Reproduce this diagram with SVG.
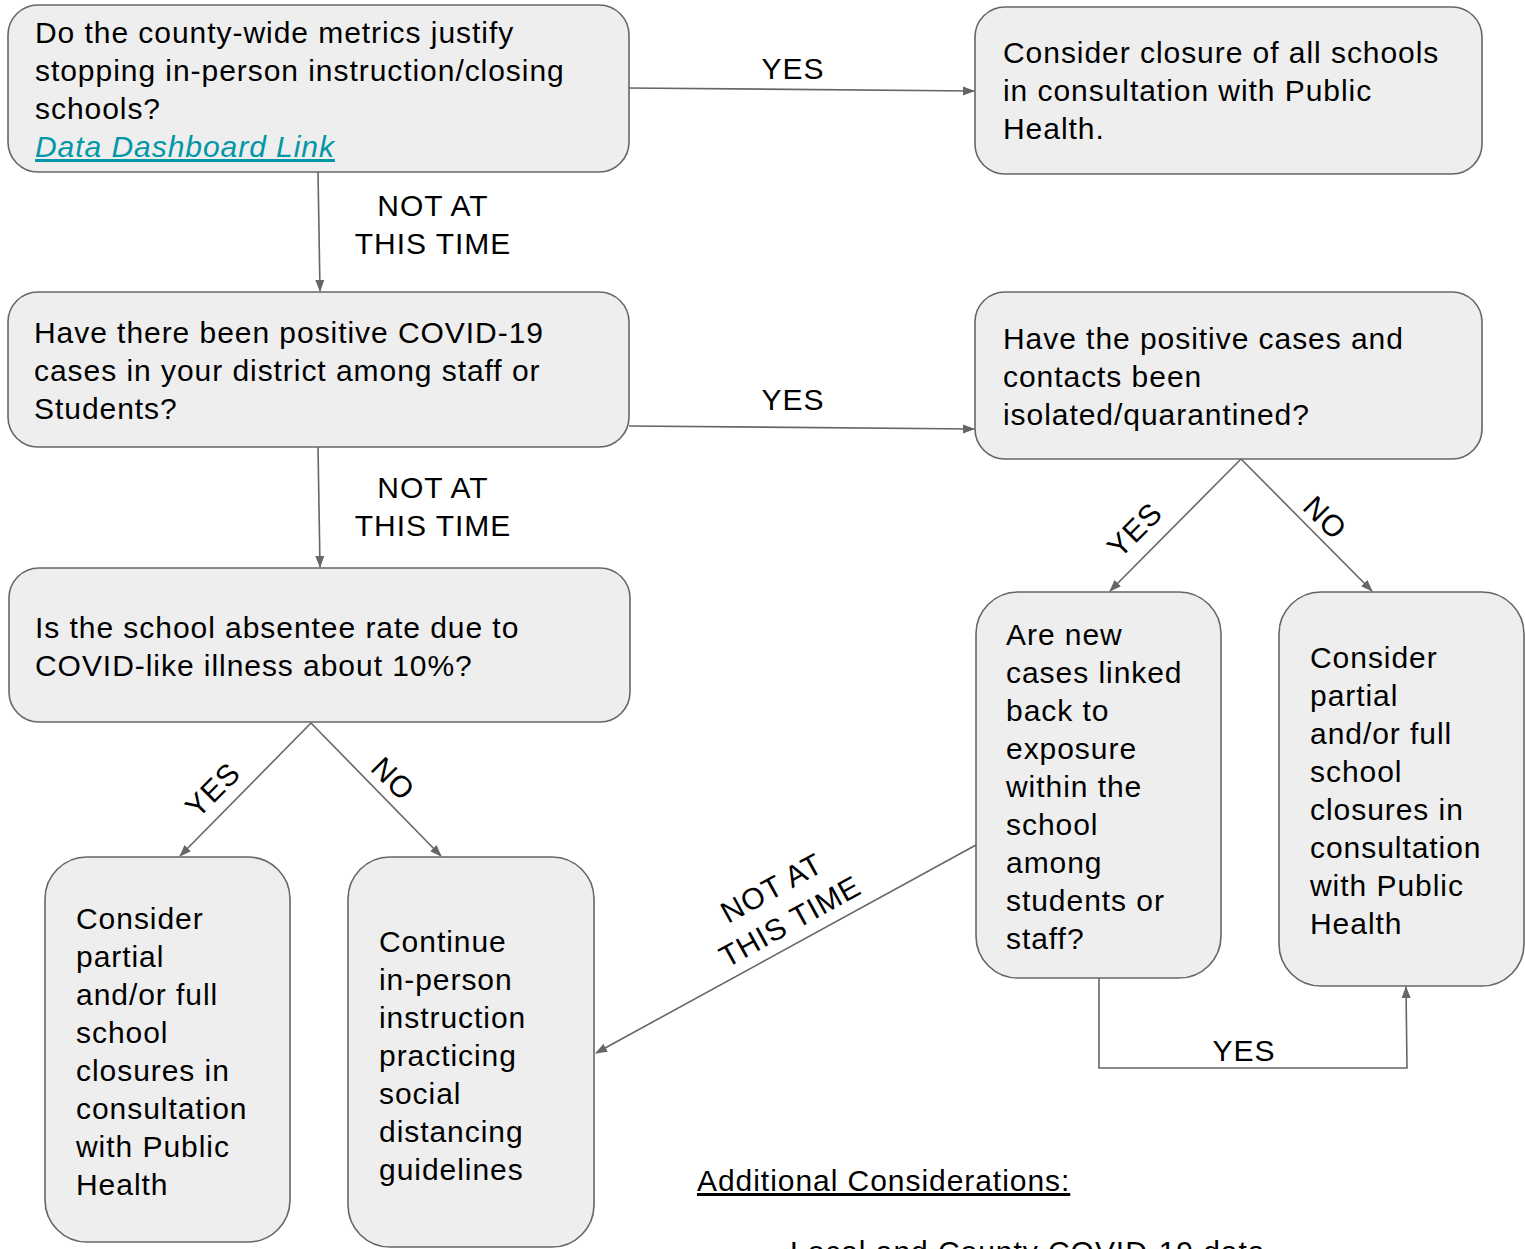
<svg xmlns="http://www.w3.org/2000/svg" width="1525" height="1249" viewBox="0 0 1525 1249">
<style>
.box{fill:#eeeeee;stroke:#666666;stroke-width:1.6}
text{font-family:"Liberation Sans",Arial,sans-serif;font-size:30px;letter-spacing:0.95px;fill:#000}
.lbl{text-anchor:middle}
.edge{fill:none;stroke:#666666;stroke-width:1.6;marker-end:url(#ah)}
.link{fill:#0097a7;font-style:italic;text-decoration:underline}
</style>
<defs>
<marker id="ah" markerWidth="12" markerHeight="10" refX="11" refY="5" orient="auto" markerUnits="userSpaceOnUse">
<path d="M0,0.5 L12,5 L0,9.5 Z" fill="#666666"/>
</marker>
</defs>
<rect width="1525" height="1249" fill="#ffffff"/>
<g id="connectors">
<path class="edge" d="M629,88 L974,91"/>
<path class="edge" d="M318,172 L320,291"/>
<path class="edge" d="M629,426 L974,429"/>
<path class="edge" d="M318,447 L320,567"/>
<path class="edge" d="M311,723 L180,856"/>
<path class="edge" d="M311,723 L441,856"/>
<path class="edge" d="M1241,459 L1110,591"/>
<path class="edge" d="M1241,459 L1372,591"/>
<path class="edge" d="M976,845 L596,1053"/>
<path class="edge" d="M1099,978 L1099,1068 L1407,1068 L1406,987"/>
<text class="lbl" x="793" y="79">YES</text>
<text class="lbl" x="433" y="216">NOT AT</text>
<text class="lbl" x="433" y="254">THIS TIME</text>
<text class="lbl" x="793" y="410">YES</text>
<text class="lbl" x="433" y="498">NOT AT</text>
<text class="lbl" x="433" y="536">THIS TIME</text>
<text class="lbl" transform="translate(1135,530) rotate(-45)" x="0" y="10">YES</text>
<text class="lbl" transform="translate(1325,518) rotate(45)" x="0" y="10">NO</text>
<text class="lbl" transform="translate(213,790) rotate(-45)" x="0" y="10">YES</text>
<text class="lbl" transform="translate(393,779) rotate(45)" x="0" y="10">NO</text>
<g transform="translate(781,905) rotate(-29)">
<text class="lbl" x="0" y="-9">NOT AT</text>
<text class="lbl" x="0" y="29">THIS TIME</text>
</g>
<text class="lbl" x="1244" y="1061">YES</text>
</g>
<g id="node-county">
<rect class="box" x="8" y="5" width="621" height="167" rx="30"/>
<text x="35" y="43">Do the county-wide metrics justify</text>
<text x="35" y="81">stopping in-person instruction/closing</text>
<text x="35" y="119">schools?</text>
<text class="link" x="35" y="157">Data Dashboard Link</text>
</g>
<g id="node-closure-all">
<rect class="box" x="975" y="7" width="507" height="167" rx="30"/>
<text x="1003" y="63">Consider closure of all schools</text>
<text x="1003" y="101">in consultation with Public</text>
<text x="1003" y="139">Health.</text>
</g>
<g id="node-positive">
<rect class="box" x="8" y="292" width="621" height="155" rx="30"/>
<text x="34" y="343">Have there been positive COVID-19</text>
<text x="34" y="381">cases in your district among staff or</text>
<text x="34" y="419">Students?</text>
</g>
<g id="node-isolated">
<rect class="box" x="975" y="292" width="507" height="167" rx="30"/>
<text x="1003" y="349">Have the positive cases and</text>
<text x="1003" y="387">contacts been</text>
<text x="1003" y="425">isolated/quarantined?</text>
</g>
<g id="node-absentee">
<rect class="box" x="9" y="568" width="621" height="154" rx="30"/>
<text x="35" y="638">Is the school absentee rate due to</text>
<text x="35" y="676">COVID-like illness about 10%?</text>
</g>
<g id="node-linked">
<rect class="box" x="976" y="592" width="245" height="386" rx="42"/>
<text x="1006" y="645">Are new</text>
<text x="1006" y="683">cases linked</text>
<text x="1006" y="721">back to</text>
<text x="1006" y="759">exposure</text>
<text x="1006" y="797">within the</text>
<text x="1006" y="835">school</text>
<text x="1006" y="873">among</text>
<text x="1006" y="911">students or</text>
<text x="1006" y="949">staff?</text>
</g>
<g id="node-partial-right">
<rect class="box" x="1279" y="592" width="245" height="394" rx="42"/>
<text x="1310" y="668">Consider</text>
<text x="1310" y="706">partial</text>
<text x="1310" y="744">and/or full</text>
<text x="1310" y="782">school</text>
<text x="1310" y="820">closures in</text>
<text x="1310" y="858">consultation</text>
<text x="1310" y="896">with Public</text>
<text x="1310" y="934">Health</text>
</g>
<g id="node-partial-left">
<rect class="box" x="45" y="857" width="245" height="385" rx="42"/>
<text x="76" y="929">Consider</text>
<text x="76" y="967">partial</text>
<text x="76" y="1005">and/or full</text>
<text x="76" y="1043">school</text>
<text x="76" y="1081">closures in</text>
<text x="76" y="1119">consultation</text>
<text x="76" y="1157">with Public</text>
<text x="76" y="1195">Health</text>
</g>
<g id="node-continue">
<rect class="box" x="348" y="857" width="246" height="390" rx="42"/>
<text x="379" y="952">Continue</text>
<text x="379" y="990">in-person</text>
<text x="379" y="1028">instruction</text>
<text x="379" y="1066">practicing</text>
<text x="379" y="1104">social</text>
<text x="379" y="1142">distancing</text>
<text x="379" y="1180">guidelines</text>
</g>
<g id="notes">
<text x="697" y="1191" text-decoration="underline">Additional Considerations:</text>
<text x="790" y="1262">Local and County COVID-19 data</text>
</g>
</svg>
